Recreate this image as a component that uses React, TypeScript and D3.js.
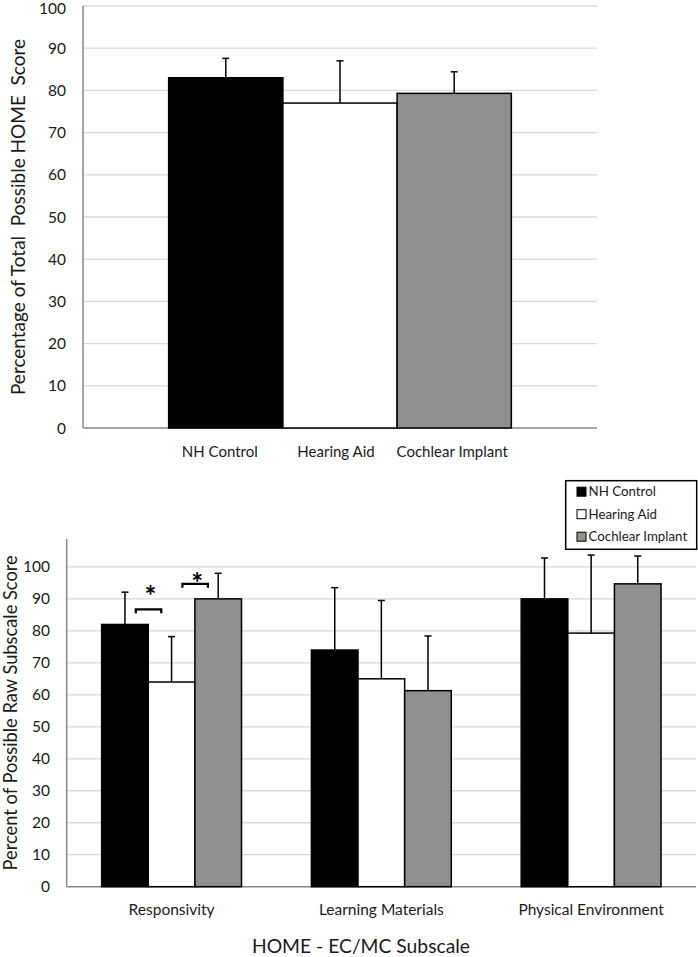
import React from "react";
import * as d3 from "d3";

const groups = ["NH Control", "Hearing Aid", "Cochlear Implant"];
const groupFills = ["#000000", "#ffffff", "#909090"];

// Top chart: total HOME score
const topMeans = [83, 77, 79.3];
const topErrs = [4.6, 10.0, 5.1];
const topTicks = [0, 10, 20, 30, 40, 50, 60, 70, 80, 90, 100];

// Bottom chart: subscales
const subscales = ["Responsivity", "Learning Materials", "Physical Environment"];
const nhMeans = [82, 74, 90];
const haMeans = [64, 65, 79.3];
const ciMeans = [90, 61.3, 94.7];
const nhErrs = [10.1, 19.5, 12.8];
const haErrs = [14.2, 24.5, 24.4];
const ciErrs = [8.0, 17.1, 8.7];
const bottomTicks = [0, 10, 20, 30, 40, 50, 60, 70, 80, 90, 100];
// significance brackets: [subscale index, left group, right group]
const sigPairs = [
  [0, 0, 1],
  [0, 1, 2],
];

const FONT = "Lato, 'Open Sans', sans-serif";
const GRID = "#d9d9d9";
const AXIS = "#888888";
const TXT = "#1a1a1a";

function TopChart() {
  const left = 83, right = 597, top = 6, bottom = 428;
  const y = d3.scaleLinear().domain([0, 100]).range([bottom, top]);
  const x0 = d3.scaleBand().domain(["Total"]).range([left, right]);
  const gw = x0.bandwidth() * (3 / 4.5);
  const cx = x0("Total")! + x0.bandwidth() / 2;
  const x1 = d3.scaleBand().domain(groups).range([cx - gw / 2, cx + gw / 2]);
  const bw = x1.bandwidth();
  return (
    <g>
      {topTicks.map((t) => (
        <g key={t}>
          {t > 0 && <line x1={left} x2={right} y1={y(t)} y2={y(t)} stroke={GRID} strokeWidth={1.3} />}
          <text x={66} y={y(t) + (t === 100 ? 2 : 0)} dy="0.36em" textAnchor="end" fontSize={15.5} fill={TXT}>{t}</text>
        </g>
      ))}
      <line x1={left} x2={left} y1={y(100)} y2={bottom} stroke={AXIS} strokeWidth={1.5} />
      <line x1={left} x2={right} y1={bottom} y2={bottom} stroke={AXIS} strokeWidth={1.5} />
      {groups.map((g, i) => {
        const bx = x1(g)!;
        const mx = bx + bw / 2;
        return (
          <g key={g}>
            <rect x={bx} y={y(topMeans[i])} width={bw} height={bottom - y(topMeans[i])} fill={groupFills[i]} stroke="#000" strokeWidth={1.5} />
            <line x1={mx} x2={mx} y1={y(topMeans[i])} y2={y(topMeans[i] + topErrs[i])} stroke="#000" strokeWidth={1.5} />
            <line x1={mx - 3.5} x2={mx + 3.5} y1={y(topMeans[i] + topErrs[i])} y2={y(topMeans[i] + topErrs[i])} stroke="#000" strokeWidth={1.5} />
            <text x={mx - 6 + i * 2} y={457} textAnchor="middle" fontSize={15} fill={TXT}>{g}</text>
          </g>
        );
      })}
      <text transform={`translate(25,${(top + bottom) / 2}) rotate(-90)`} textAnchor="middle" fontSize={19} fill={TXT} style={{ whiteSpace: "pre" }}>
        {"Percentage of Total  Possible HOME  Score"}
      </text>
    </g>
  );
}

function BottomChart() {
  const left = 66.7, right = 696, top = 539, bottom = 886.7;
  const y = d3.scaleLinear().domain([0, 100]).range([bottom, 566.9]);
  const x0 = d3.scaleBand().domain(subscales).range([left, right]);
  const gw = x0.bandwidth() * (3 / 4.5);
  const series = [nhMeans, haMeans, ciMeans];
  const errs = [nhErrs, haErrs, ciErrs];
  const x1 = d3.scaleBand().domain(groups).range([0, gw]);
  const bw = x1.bandwidth();
  const gx = (s: string) => x0(s)! + x0.bandwidth() / 2 - gw / 2;
  const starGap = [19, 7];
  return (
    <g>
      {bottomTicks.map((t) => (
        <g key={t}>
          {t > 0 && <line x1={left} x2={right} y1={y(t)} y2={y(t)} stroke={GRID} strokeWidth={1.3} />}
          <text x={50} y={y(t)} dy="0.36em" textAnchor="end" fontSize={15.5} fill={TXT}>{t}</text>
        </g>
      ))}
      <line x1={left} x2={left} y1={top} y2={bottom} stroke={AXIS} strokeWidth={1.5} />
      <line x1={left} x2={right} y1={bottom} y2={bottom} stroke={AXIS} strokeWidth={1.5} />
      {subscales.map((s, si) => (
        <g key={s}>
          {groups.map((g, i) => {
            const v = series[i][si];
            const e = errs[i][si];
            const bx = gx(s) + x1(g)!;
            const mx = bx + bw / 2;
            return (
              <g key={g}>
                <rect x={bx} y={y(v)} width={bw} height={bottom - y(v)} fill={groupFills[i]} stroke="#000" strokeWidth={1.5} />
                <line x1={mx} x2={mx} y1={y(v)} y2={y(v + e)} stroke="#000" strokeWidth={1.5} />
                <line x1={mx - 3.5} x2={mx + 3.5} y1={y(v + e)} y2={y(v + e)} stroke="#000" strokeWidth={1.5} />
              </g>
            );
          })}
          <text x={x0(s)! + x0.bandwidth() / 2} y={915} textAnchor="middle" fontSize={15.5} fill={TXT}>{s}</text>
        </g>
      ))}
      {sigPairs.map(([si, a, b], k) => {
        const s = subscales[si];
        const edge = gx(s) + x1(groups[b])!;
        const ref = k === 0 ? series[a][si] : series[b][si];
        const by = y(ref) - 15.1;
        const x1b = edge - 12.5, x2b = edge + 13;
        const starCy = by - starGap[k];
        return (
          <g key={k}>
            <path d={`M${x1b},${by + 4}V${by}H${x2b}V${by + 4}`} fill="none" stroke="#000" strokeWidth={2.2} />
            <text x={(x1b + x2b) / 2 + 2} y={starCy + 16} textAnchor="middle" fontSize={28} fontWeight="bold" fill="#000">*</text>
          </g>
        );
      })}
      <text x={361} y={953} textAnchor="middle" fontSize={19.3} fill={TXT}>HOME - EC/MC Subscale</text>
      <text transform={`translate(16.5,${(top + bottom) / 2}) rotate(-90)`} textAnchor="middle" fontSize={18.3} fill={TXT}>
        Percent of Possible Raw Subscale Score
      </text>
      <g>
        <rect x={565.7} y={480.7} width={131} height={68.6} fill="#fff" stroke="#000" strokeWidth={1.5} />
        {groups.map((g, i) => {
          const ly = 491.7 + i * 22.5;
          return (
            <g key={g}>
              <rect x={577} y={ly - 4.5} width={9} height={9} fill={groupFills[i]} stroke="#000" strokeWidth={1} />
              <text x={588.5} y={ly} dy="0.36em" fontSize={13.3} fill={TXT}>{g}</text>
            </g>
          );
        })}
      </g>
    </g>
  );
}

export default function App() {
  return (
    <svg width={698} height={957} style={{ position: "absolute", left: 0, top: 0, background: "#fff" }} fontFamily={FONT}>
      <rect width={698} height={957} fill="#fff" />
      <TopChart />
      <BottomChart />
    </svg>
  );
}
